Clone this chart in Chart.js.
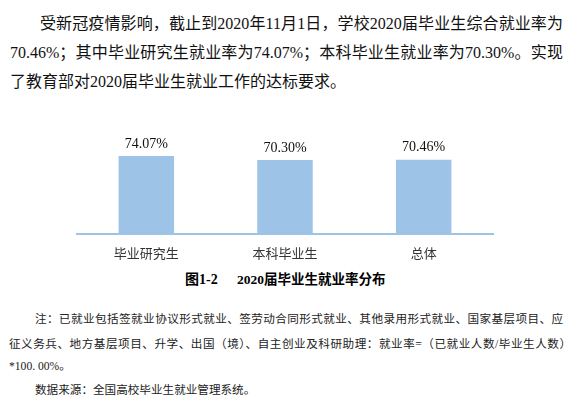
<!DOCTYPE html>
<html>
<head>
<meta charset="utf-8">
<script src="https://cdn.jsdelivr.net/npm/chart.js@4/dist/chart.umd.min.js"></script>
<style>
  html, body { margin: 0; padding: 0; background: #fff; }
  #wrap { position: relative; width: 579px; height: 407px; overflow: hidden; }
  canvas { position: absolute; left: 0; top: 0; }
  .ln { position: absolute; white-space: nowrap; color: #111;
        font-family: "Liberation Serif", "Noto Sans CJK SC", serif; }
  .j { text-align: justify; text-align-last: justify; white-space: normal; }
  .p { font-size: 16px; height: 24px; line-height: 24px; }
  .n { font-size: 11.6px; height: 18px; line-height: 18px; color: #222; }
  .cap { font-size: 14px; font-weight: bold; height: 20px; line-height: 20px; color: #000; }
</style>
</head>
<body>
<div id="wrap">
  <div class="ln p j" style="left:40px; top:12px; width:523px;">受新冠疫情影响，截止到2020年11月1日，学校2020届毕业生综合就业率为</div>
  <div class="ln p j" style="left:10px; top:41px; width:553px;">70.46%；其中毕业研究生就业率为74.07%；本科毕业生就业率为70.30%。实现</div>
  <div class="ln p" style="left:10px; top:70px;">了教育部对2020届毕业生就业工作的达标要求。</div>

  <div class="ln cap" style="left:185px; top:270px;">图1-2</div>
  <div class="ln cap" style="left:237px; top:270px; font-size:13.5px;">2020届毕业生就业率分布</div>

  <div class="ln n j" style="left:35px; top:311px; width:528px; letter-spacing:-0.2px;">注：已就业包括签就业协议形式就业、签劳动合同形式就业、其他录用形式就业、国家基层项目、应</div>
  <div class="ln n j" style="left:9px; top:336px; width:562px;">征义务兵、地方基层项目、升学、出国（境）、自主创业及科研助理：就业率=（已就业人数/毕业生人数）</div>
  <div class="ln n" style="left:9px; top:358px;">*100. 00%。</div>
  <div class="ln n" style="left:35px; top:382px;">数据来源：全国高校毕业生就业管理系统。</div>

  <canvas id="c" width="579" height="407"></canvas>
</div>
<script>
const categories = ['毕业研究生', '本科毕业生', '总体'];
const rates = [74.07, 70.30, 70.46];
const yMin = 0;
const yMax = 100;

const valueLabels = {
  id: 'valueLabels',
  afterDatasetsDraw(chart) {
    const ctx = chart.ctx;
    const meta = chart.getDatasetMeta(0);
    ctx.save();
    ctx.font = '14px "Liberation Serif", serif';
    ctx.fillStyle = '#111';
    ctx.textAlign = 'center';
    ctx.textBaseline = 'middle';
    meta.data.forEach((bar, i) => {
      ctx.fillText(rates[i].toFixed(2) + '%', bar.x, bar.y - 12);
    });
    ctx.restore();
  }
};

new Chart(document.getElementById('c'), {
  type: 'bar',
  data: {
    labels: categories,
    datasets: [{
      data: rates,
      backgroundColor: '#9DC3E6',
      borderWidth: 0,
      barPercentage: 0.4,
      categoryPercentage: 1.0
    }]
  },
  options: {
    responsive: false,
    devicePixelRatio: 1,
    animation: false,
    layout: { padding: { left: 77, right: 86, top: 128.7, bottom: 143 } },
    plugins: { legend: { display: false }, tooltip: { enabled: false } },
    scales: {
      x: {
        grid: { display: false, drawTicks: false },
        border: { display: true, color: '#9DC3E6', width: 2 },
        ticks: { color: '#333', padding: 11, font: { size: 13, family: '"Noto Sans CJK SC", sans-serif' } },
        afterFit(s) { s.height = 30; }
      },
      y: { display: false, min: yMin, max: yMax }
    }
  },
  plugins: [valueLabels]
});
</script>
</body>
</html>
